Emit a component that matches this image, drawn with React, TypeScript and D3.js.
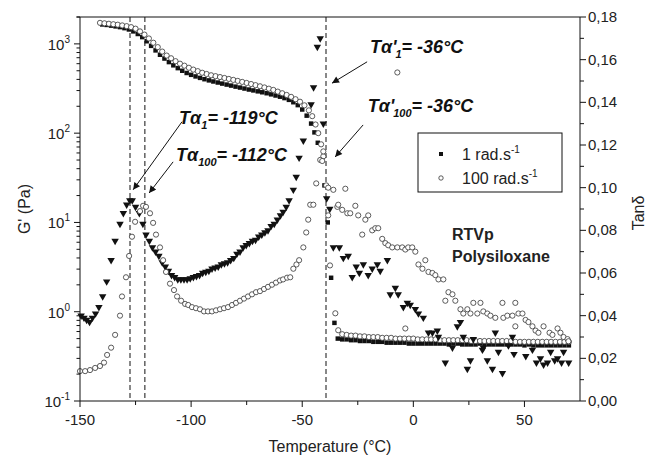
import React from "react";
import * as d3 from "d3";

// ---------- data ----------
// G' at 1 rad/s (filled squares), [T °C, G' Pa]
const gp1: [number, number][] = [
  [-140, 1650], [-138, 1630], [-136, 1600], [-134, 1570], [-132, 1540], [-130, 1500], [-128, 1450],
  [-126, 1380], [-124, 1290], [-122, 1190], [-120, 1070], [-118, 950], [-116, 845], [-114, 755],
  [-112, 685], [-110, 625], [-108, 575], [-106, 535], [-104, 500], [-102, 472], [-100, 450],
  [-98, 432], [-96, 416], [-94, 402], [-92, 390], [-90, 379], [-88, 369], [-86, 359], [-84, 350],
  [-82, 341], [-80, 332], [-78, 324], [-76, 316], [-74, 308], [-72, 301], [-70, 294], [-68, 287],
  [-66, 280], [-64, 272], [-62, 264], [-60, 256], [-58, 247], [-56, 236], [-54, 222], [-52, 206],
  [-50, 184], [-48, 157], [-46, 128], [-44.5, 102], [-43, 78], [-41.5, 50], [-40, 26], [-38.5, 10],
  [-37, 2.4], [-35.5, 0.75],
  [-34, 0.5], [-32, 0.49], [-30, 0.49], [-28, 0.48], [-26, 0.48], [-24, 0.47], [-22, 0.47], [-20, 0.47],
  [-18, 0.46], [-16, 0.46], [-14, 0.46], [-12, 0.45], [-10, 0.45], [-8, 0.45], [-6, 0.45], [-4, 0.45],
  [-2, 0.44], [0, 0.44], [2, 0.44], [4, 0.44], [6, 0.44], [8, 0.44], [10, 0.44], [12, 0.44], [14, 0.44],
  [16, 0.43], [18, 0.44], [20, 0.44], [22, 0.43], [24, 0.43], [26, 0.43], [28, 0.43], [30, 0.44],
  [32, 0.43], [34, 0.43], [36, 0.43], [38, 0.43], [40, 0.43], [42, 0.43], [44, 0.43], [46, 0.43],
  [48, 0.43], [50, 0.42], [52, 0.43], [54, 0.42], [56, 0.42], [58, 0.42], [60, 0.42], [62, 0.42],
  [64, 0.42], [66, 0.42], [68, 0.42], [70, 0.42],
];

// G' at 100 rad/s (open circles)
const gp100: [number, number][] = [
  [-141, 1720], [-139, 1700], [-137, 1680], [-135, 1660], [-133, 1640], [-131, 1610], [-129, 1580],
  [-127, 1540], [-125, 1480], [-123, 1380], [-121, 1270], [-119, 1150], [-117, 1030], [-115, 920],
  [-113, 820], [-111, 740], [-109, 690], [-107, 640], [-105, 600], [-103, 570], [-101, 540], [-99, 515],
  [-97, 495], [-95, 475], [-93, 460], [-91, 445], [-89, 435], [-87, 425], [-85, 415], [-83, 405],
  [-81, 395], [-79, 385], [-77, 375], [-75, 365], [-73, 355], [-71, 345], [-69, 335], [-67, 325],
  [-65, 315], [-63, 305], [-61, 292], [-59, 280], [-57, 268], [-55, 255], [-53, 240], [-51, 225],
  [-49, 205], [-47, 180], [-45.5, 155], [-44, 125], [-42.8, 100], [-41.5, 75], [-40.5, 55],
  [-39.2, 26], [-38.3, 12], [-37.5, 3.3], [-35.1, 0.96], [-33.8, 0.62],
  [-32, 0.56], [-30, 0.55], [-28, 0.54], [-26, 0.54], [-24, 0.53], [-22, 0.53], [-20, 0.52], [-18, 0.52],
  [-16, 0.52], [-14, 0.51], [-12, 0.51], [-10, 0.51], [-8, 0.5], [-6, 0.5], [-4, 0.5], [-2, 0.5],
  [0, 0.5], [2, 0.49], [4, 0.49], [6, 0.49], [8, 0.49], [10, 0.49], [12, 0.48], [14, 0.48], [16, 0.48],
  [18, 0.48], [20, 0.48], [22, 0.48], [24, 0.48], [26, 0.47], [28, 0.47], [30, 0.47], [32, 0.47],
  [34, 0.47], [36, 0.47], [38, 0.47], [40, 0.47], [42, 0.47], [44, 0.47], [46, 0.46], [48, 0.46],
  [50, 0.46], [52, 0.46], [54, 0.46], [56, 0.46], [58, 0.46], [60, 0.46], [62, 0.46], [64, 0.46],
  [66, 0.46], [68, 0.46], [70, 0.46],
];

// tan delta at 1 rad/s (filled down triangles)
const tan1: [number, number][] = [
  [-149.5, 0.040], [-148.2, 0.039], [-147, 0.038], [-145.7, 0.037], [-144.4, 0.039], [-143, 0.041],
  [-141.5, 0.044], [-139.8, 0.049], [-138, 0.056], [-136, 0.066], [-134.2, 0.075], [-132, 0.083],
  [-130.5, 0.088], [-129, 0.092], [-127.6, 0.094], [-126.5, 0.094], [-125, 0.091], [-123.3, 0.088],
  [-121.7, 0.083], [-120.3, 0.078], [-118.8, 0.075], [-117.4, 0.072], [-116, 0.070], [-114.5, 0.068],
  [-113, 0.065], [-111.6, 0.063], [-110.2, 0.061], [-108.8, 0.059], [-107.4, 0.058], [-106, 0.057],
  [-104.6, 0.057], [-103.2, 0.057], [-101.8, 0.057], [-100.4, 0.0575], [-99, 0.058], [-97.6, 0.0585],
  [-96.2, 0.059], [-94.8, 0.060], [-93.4, 0.0605], [-92, 0.061], [-90.6, 0.062], [-89.2, 0.0625],
  [-87.8, 0.063], [-86.4, 0.064], [-85, 0.0645], [-83.6, 0.065], [-82.2, 0.066], [-80.8, 0.067],
  [-79.4, 0.069], [-78, 0.070], [-76.6, 0.072], [-75.2, 0.073], [-73.8, 0.074], [-72.4, 0.075],
  [-71, 0.0755], [-69.6, 0.077], [-68.2, 0.078], [-66.8, 0.079], [-65.4, 0.080], [-64, 0.082],
  [-62.6, 0.083], [-61.2, 0.085], [-59.8, 0.087], [-58.6, 0.0886], [-57.2, 0.091], [-55.9, 0.094],
  [-54, 0.099], [-52.7, 0.105], [-51.4, 0.114], [-49.5, 0.122], [-46, 0.139], [-44.9, 0.147],
  [-43.2, 0.166], [-41.9, 0.170], [-40.5, 0.130], [-39, 0.095], [-37.6, 0.090],
  [-36, 0.072], [-33.3, 0.072], [-31.5, 0.067], [-29.3, 0.068], [-27.5, 0.058], [-25.7, 0.063],
  [-24.3, 0.060], [-22.5, 0.064], [-20.3, 0.059], [-18.5, 0.062], [-16.2, 0.064], [-14.9, 0.061],
  [-11.7, 0.066], [-10.4, 0.050], [-8.1, 0.053], [-6.8, 0.050], [-4.5, 0.044], [-2.7, 0.046],
  [-1.4, 0.045], [0.9, 0.043], [2.3, 0.041], [4.5, 0.039], [6.8, 0.032], [8.6, 0.032], [10.8, 0.033],
  [11.3, 0.030], [14.4, 0.018], [17.6, 0.025], [19.8, 0.035], [21.2, 0.037], [22.5, 0.030],
  [24.3, 0.015], [25.7, 0.019], [27, 0.029], [31.1, 0.024], [31.5, 0.025], [33.3, 0.019], [35.6, 0.015],
  [36.9, 0.032], [38.3, 0.023], [40.1, 0.013], [42.8, 0.026], [44.6, 0.030], [45.3, 0.022],
  [50.6, 0.021], [53.6, 0.024], [55.4, 0.018], [57.2, 0.020], [58.6, 0.017], [60.4, 0.018],
  [61.8, 0.023], [63.6, 0.019], [64.9, 0.020], [66.7, 0.018], [67.6, 0.023], [69.9, 0.018],
];

// tan delta at 100 rad/s (open circles)
const tan100: [number, number][] = [
  [-150, 0.014], [-147.7, 0.014], [-145.5, 0.0145], [-143.2, 0.0155], [-141, 0.0164], [-139.2, 0.018],
  [-137.8, 0.0216], [-136, 0.025], [-134.2, 0.031], [-132, 0.040], [-131.1, 0.049], [-129.3, 0.058],
  [-127.9, 0.068], [-126.6, 0.077], [-125.2, 0.084], [-123, 0.089], [-121.6, 0.0915], [-120.3, 0.091],
  [-118.5, 0.088], [-117.1, 0.0835], [-115.8, 0.078], [-114, 0.072], [-112.6, 0.066], [-111.3, 0.0605],
  [-109.5, 0.055], [-107.7, 0.052], [-106.3, 0.049], [-104.5, 0.047], [-102.7, 0.0455], [-101.3, 0.045],
  [-99.6, 0.044], [-97.8, 0.0435], [-96, 0.043], [-94.2, 0.042], [-92.4, 0.042], [-90.6, 0.042],
  [-88.8, 0.0425], [-87, 0.043], [-85.2, 0.0435], [-83.4, 0.044], [-81.6, 0.045], [-79.8, 0.046],
  [-78, 0.047], [-76.2, 0.048], [-74.4, 0.049], [-72.6, 0.050], [-70.8, 0.051], [-69, 0.0515],
  [-67.2, 0.0525], [-65.4, 0.0535], [-63.6, 0.0545], [-61.8, 0.0555], [-60, 0.0565], [-58.6, 0.057],
  [-56.8, 0.0578], [-55.4, 0.058], [-54, 0.062], [-52.6, 0.064], [-51.4, 0.066], [-49.5, 0.072],
  [-48.2, 0.079], [-47.3, 0.085], [-46.4, 0.092], [-45, 0.092], [-43.7, 0.102], [-41.9, 0.113],
  [-41, 0.1125], [-40.5, 0.117], [-38.3, 0.100], [-36, 0.099], [-34.2, 0.091], [-32, 0.0896],
  [-30.6, 0.0995], [-33.8, 0.092], [-29.7, 0.088], [-28.4, 0.088], [-26.1, 0.0915], [-24.8, 0.087],
  [-23, 0.078], [-21.6, 0.085], [-20.3, 0.087], [-18.5, 0.080], [-17.1, 0.081], [-15.8, 0.081],
  [-14, 0.076], [-12.6, 0.074], [-11.3, 0.073], [-9.5, 0.072], [-7.2, 0.072], [-5, 0.072], [-3.6, 0.071],
  [-2.3, 0.072], [-0.5, 0.072], [0.9, 0.070], [2.3, 0.064], [4.1, 0.062], [5.4, 0.066], [6.8, 0.0605],
  [8.6, 0.060], [9.9, 0.059], [11.3, 0.057], [13.5, 0.057], [14.4, 0.047], [15.8, 0.051], [17.6, 0.050],
  [18.9, 0.047], [21.2, 0.043], [22.5, 0.041], [24.3, 0.043], [25.7, 0.041], [27, 0.046], [28.8, 0.041],
  [30.2, 0.046], [31.5, 0.042], [33.3, 0.041], [34.7, 0.040], [36.9, 0.039], [40.1, 0.046], [40.5, 0.039],
  [42.3, 0.040], [44.6, 0.040], [45.9, 0.046], [47.3, 0.041], [49.1, 0.041], [45.9, 0.035], [50.5, 0.038],
  [51.8, 0.037], [53.6, 0.035], [55, 0.033], [56.3, 0.032], [58.6, 0.035], [61.3, 0.032], [62.6, 0.031],
  [64.9, 0.034], [66.2, 0.032], [67.6, 0.030], [69.4, 0.029], [69.8, 0.028],
  [-3.6, 0.034], [-7.2, 0.154],
];

// axes
const xTicks = [-150, -100, -50, 0, 50];
const xMinorTicks = [-125, -75, -25, 25];
const yLeftDecades = [0.1, 1, 10, 100, 1000];
const yLeftExp = ["-1", "0", "1", "2", "3"];
const yRightTicks = [0, 0.02, 0.04, 0.06, 0.08, 0.1, 0.12, 0.14, 0.16, 0.18];
const yRightMinor = [0.01, 0.03, 0.05, 0.07, 0.09, 0.11, 0.13, 0.15, 0.17];

// dashed transition lines (°C)
const vLines = [-127.5, -120.8, -39.3];

// annotations: [T, tanδ] anchors on right axis
const annotations = [
  { x: -105.4, y: 0.1299, sub: "1", prime: false, val: "-119°C", from: [-104.1, 0.1309], to: [-126.1, 0.099] },
  { x: -106.8, y: 0.1126, sub: "100", prime: false, val: "-112°C", from: [-108.1, 0.1121], to: [-118.9, 0.0975] },
  { x: -19.5, y: 0.1632, sub: "1", prime: true, val: "-36°C", from: [-20.8, 0.159], to: [-36.6, 0.149] },
  { x: -20.5, y: 0.1355, sub: "100", prime: true, val: "-36°C", from: [-22.6, 0.1294], to: [-35.2, 0.1144] },
];

const FONT = "'Liberation Sans', Arial, Helvetica, sans-serif";

export default function App() {
  const L = 80, R = 580, T = 17, B = 401;
  const x = d3.scaleLinear().domain([-150, 75]).range([L, R]);
  const yL = d3.scaleLog().domain([0.1, 2000]).range([B, T]);
  const yR = d3.scaleLinear().domain([0, 0.18]).range([B, T]);

  const sq = d3.symbol(d3.symbolSquare, 20)() as string;
  const tri = d3.symbol(d3.symbolTriangle, 24)() as string;

  const leftMinor: number[] = [];
  yLeftDecades.forEach((d) => {
    for (let k = 2; k <= 9; k++) {
      const v = d * k;
      if (v <= 2000) leftMinor.push(v);
    }
  });
  leftMinor.push(2000);

  const fmtR = (v: number) => v.toFixed(2).replace(".", ",");

  return (
    <svg
      width={657}
      height={459}
      style={{ position: "absolute", left: 0, top: 0, background: "#fff" }}
      fontFamily={FONT}
    >
      <defs>
        <marker id="ah" viewBox="0 0 10 10" refX="10" refY="5" markerWidth="9" markerHeight="7" orient="auto" markerUnits="userSpaceOnUse">
          <path d="M0,0 L10,5 L0,10 z" fill="#111" />
        </marker>
      </defs>

      {/* dashed lines */}
      {vLines.map((v, i) => (
        <line key={i} x1={x(v)} x2={x(v)} y1={T} y2={B} stroke="#111" strokeWidth={1} strokeDasharray="5,3" />
      ))}

      {/* G' 1 rad/s squares */}
      {gp1.map(([t, g], i) => (
        <path key={"a" + i} d={sq} transform={`translate(${x(t)},${yL(g)})`} fill="#111" />
      ))}
      {/* G' 100 rad/s circles */}
      {gp100.map(([t, g], i) => (
        <circle key={"b" + i} cx={x(t)} cy={yL(g)} r={2.6} fill="#fff" stroke="#333" strokeWidth={0.8} />
      ))}
      {/* tan 1 triangles */}
      {tan1.map(([t, v], i) => (
        <path key={"c" + i} d={tri} transform={`translate(${x(t)},${yR(v)}) rotate(180)`} fill="#111" />
      ))}
      {/* tan 100 circles */}
      {tan100.map(([t, v], i) => (
        <circle key={"d" + i} cx={x(t)} cy={yR(v)} r={2.6} fill="#fff" stroke="#333" strokeWidth={0.8} />
      ))}

      {/* frame */}
      <line x1={L} x2={R} y1={T} y2={T} stroke="#111" />
      <line x1={L} x2={R} y1={B} y2={B} stroke="#111" />
      <line x1={L} x2={L} y1={T} y2={B} stroke="#111" />
      <line x1={R} x2={R} y1={T} y2={B} stroke="#111" />

      {/* bottom axis */}
      {xTicks.map((t) => (
        <g key={"xt" + t}>
          <line x1={x(t)} x2={x(t)} y1={B} y2={B + 6} stroke="#111" />
          <text x={x(t)} y={B + 24} fontSize={15} textAnchor="middle" fill="#222">{t}</text>
        </g>
      ))}
      {xMinorTicks.map((t) => (
        <line key={"xm" + t} x1={x(t)} x2={x(t)} y1={B} y2={B + 4} stroke="#111" />
      ))}
      <text x={(L + R) / 2} y={452} fontSize={16} textAnchor="middle" fill="#222">Temperature (°C)</text>

      {/* left axis */}
      {yLeftDecades.map((d, i) => (
        <g key={"yl" + i}>
          <line x1={L - 6} x2={L} y1={yL(d)} y2={yL(d)} stroke="#111" />
          <text x={70} y={yL(d) + 6} fontSize={15} textAnchor="end" fill="#222">
            10<tspan dy={-7} fontSize={10}>{yLeftExp[i]}</tspan>
          </text>
        </g>
      ))}
      {leftMinor.map((v, i) => (
        <line key={"ylm" + i} x1={L - 3.5} x2={L} y1={yL(v)} y2={yL(v)} stroke="#111" />
      ))}
      <text transform={`translate(30,${(T + B) / 2}) rotate(-90)`} fontSize={16} textAnchor="middle" fill="#222">G' (Pa)</text>

      {/* right axis */}
      {yRightTicks.map((v) => (
        <g key={"yr" + v}>
          <line x1={R} x2={R + 6} y1={yR(v)} y2={yR(v)} stroke="#111" />
          <text x={R + 8} y={yR(v) + 5} fontSize={15} fill="#222">{fmtR(v)}</text>
        </g>
      ))}
      {yRightMinor.map((v) => (
        <line key={"yrm" + v} x1={R} x2={R + 4} y1={yR(v)} y2={yR(v)} stroke="#111" />
      ))}
      <text transform={`translate(644,${(T + B) / 2 + 4}) rotate(-90)`} fontSize={16} textAnchor="middle" fill="#222">Tanδ</text>

      {/* annotations */}
      {annotations.map((a, i) => (
        <g key={"an" + i}>
          <line x1={x(a.from[0])} y1={yR(a.from[1])} x2={x(a.to[0])} y2={yR(a.to[1])} stroke="#111" strokeWidth={1} markerEnd="url(#ah)" />
          <text x={x(a.x)} y={yR(a.y)} fontSize={18} fontWeight="bold" fontStyle="italic" fill="#111">
            Tα{a.prime ? "'" : ""}
            <tspan dy={5} fontSize={11} dx={a.prime ? -1 : 0}>{a.sub}</tspan>
            <tspan dy={-5}>= {a.val}</tspan>
          </text>
        </g>
      ))}

      {/* legend */}
      <rect x={418} y={133} width={144} height={59} fill="#fff" stroke="#111" strokeWidth={1} />
      <path d={d3.symbol(d3.symbolSquare, 16)() as string} transform="translate(441,154)" fill="#111" />
      <text x={462} y={160} fontSize={16} fill="#222">1 rad.s<tspan dy={-7} fontSize={10}>-1</tspan></text>
      <circle cx={441} cy={178} r={2.2} fill="#fff" stroke="#333" strokeWidth={0.8} />
      <text x={462} y={184} fontSize={16} fill="#222">100 rad.s<tspan dy={-7} fontSize={10}>-1</tspan></text>

      <text x={x(17.4)} y={yR(0.0755)} fontSize={16} fontWeight="bold" fill="#222">RTVp</text>
      <text x={x(17.4)} y={yR(0.0652)} fontSize={16} fontWeight="bold" fill="#222">Polysiloxane</text>
    </svg>
  );
}
